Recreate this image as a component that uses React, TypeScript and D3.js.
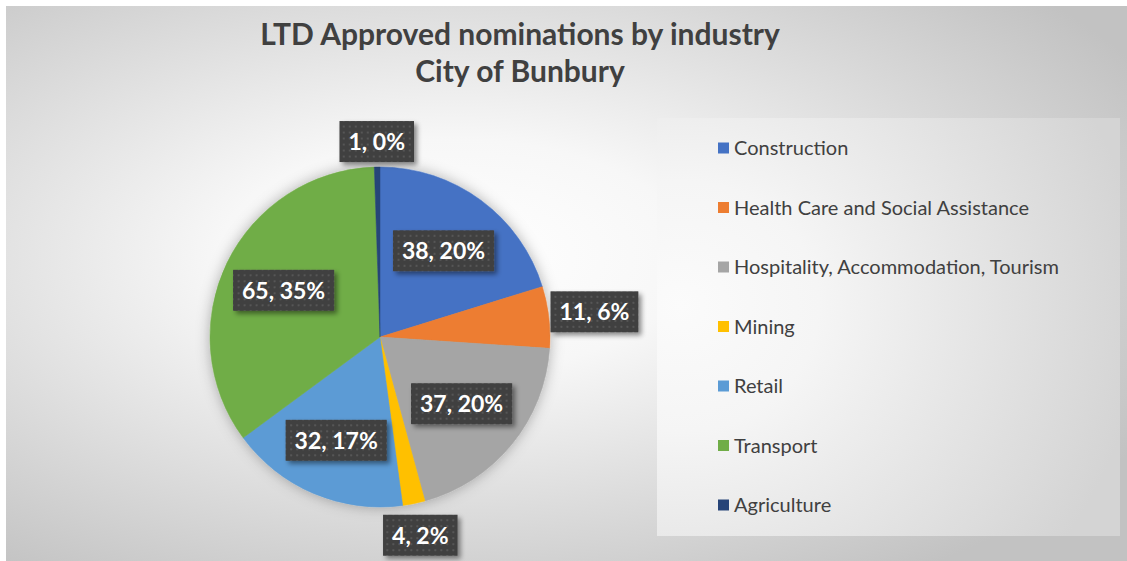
import React, { useEffect, useRef } from 'react';
import * as d3 from 'd3';

const categories = [
  'Construction',
  'Health Care and Social Assistance',
  'Hospitality, Accommodation, Tourism',
  'Mining',
  'Retail',
  'Transport',
  'Agriculture',
];
const values = [38, 11, 37, 4, 32, 65, 1];
// percentages as printed on the chart
const percents = [20, 6, 20, 2, 17, 35, 0];
const colors = ['#4472C4', '#ED7D31', '#A5A5A5', '#FFC000', '#5B9BD5', '#70AD47', '#264478'];
// where each data label sits, as a fraction of the pie radius
const labelRadius = [0.63, 1.27, 0.62, 1.19, 0.66, 0.63, 1.15];
const titleLines = ['LTD Approved nominations by industry', 'City of Bunbury'];

const W = 1127;
const H = 561;
const FONT = 'Lato, "Open Sans", sans-serif';

const App: React.FC = () => {
  const svgRef = useRef<SVGSVGElement>(null);

  useEffect(() => {
    if (!svgRef.current) return;
    const svg = d3.select(svgRef.current);
    svg.selectAll('*').remove();

    const defs = svg.append('defs');
    const bg = defs.append('radialGradient').attr('id', 'bgGrad')
      .attr('cx', 0.4).attr('cy', 0.45).attr('r', 0.7);
    bg.append('stop').attr('offset', 0).attr('stop-color', '#ffffff');
    bg.append('stop').attr('offset', 0.3).attr('stop-color', '#f7f7f7');
    bg.append('stop').attr('offset', 1).attr('stop-color', '#c2c2c2');

    const lg = defs.append('radialGradient').attr('id', 'legGrad')
      .attr('cx', 0.05).attr('cy', 0.45).attr('r', 1.0);
    lg.append('stop').attr('offset', 0).attr('stop-color', '#fbfbfb');
    lg.append('stop').attr('offset', 0.3).attr('stop-color', '#f5f5f5');
    lg.append('stop').attr('offset', 1).attr('stop-color', '#d4d4d4');

    const pat = defs.append('pattern').attr('id', 'dots')
      .attr('width', 6).attr('height', 6).attr('patternUnits', 'userSpaceOnUse');
    pat.append('rect').attr('width', 6).attr('height', 6).attr('fill', '#3f3f3f');
    pat.append('rect').attr('x', 2).attr('y', 2).attr('width', 2).attr('height', 2).attr('fill', '#575757');

    const pieShadow = defs.append('filter').attr('id', 'pieShadow')
      .attr('x', '-20%').attr('y', '-20%').attr('width', '140%').attr('height', '140%');
    pieShadow.append('feDropShadow').attr('dx', 0).attr('dy', 0)
      .attr('stdDeviation', 7).attr('flood-color', '#000').attr('flood-opacity', 0.3);

    const boxShadow = defs.append('filter').attr('id', 'boxShadow')
      .attr('x', '-20%').attr('y', '-30%').attr('width', '150%').attr('height', '170%');
    boxShadow.append('feDropShadow').attr('dx', 3).attr('dy', 3)
      .attr('stdDeviation', 2.5).attr('flood-color', '#000').attr('flood-opacity', 0.45);

    // chart area
    svg.append('rect').attr('x', 6).attr('y', 6).attr('width', W - 6).attr('height', H - 6)
      .attr('fill', 'url(#bgGrad)');

    // title
    svg.append('g').selectAll('text').data(titleLines).join('text')
      .attr('x', 520).attr('y', (_, i) => 45 + i * 37)
      .attr('text-anchor', 'middle')
      .attr('font-family', FONT).attr('font-weight', 'bold').attr('font-size', 30)
      .attr('fill', '#404040')
      .text(d => d);

    // pie
    const cx = 380, cy = 337, r = 170;
    const pie = d3.pie<number>().sort(null).value(d => d);
    const arcs = pie(values);
    const arc = d3.arc<d3.PieArcDatum<number>>().innerRadius(0).outerRadius(r);

    const pg = svg.append('g').attr('transform', `translate(${cx},${cy})`);
    pg.append('g').attr('filter', 'url(#pieShadow)')
      .selectAll('path').data(arcs).join('path')
      .attr('d', arc)
      .attr('fill', (_, i) => colors[i])
      .attr('stroke', (_, i) => colors[i]).attr('stroke-width', 0.5);

    // data labels
    arcs.forEach((a, i) => {
      const mid = (a.startAngle + a.endAngle) / 2;
      const lr = labelRadius[i] * r;
      const lx = Math.sin(mid) * lr;
      const ly = -Math.cos(mid) * lr;
      const g = pg.append('g').attr('transform', `translate(${lx},${ly})`);
      const rect = g.append('rect').attr('fill', 'url(#dots)').attr('filter', 'url(#boxShadow)');
      const t = g.append('text')
        .attr('text-anchor', 'middle').attr('dy', '0.36em')
        .attr('font-family', FONT).attr('font-weight', 'bold').attr('font-size', 23)
        .attr('fill', '#ffffff')
        .text(`${values[i]}, ${percents[i]}%`);
      const tw = (t.node() as SVGTextElement).getComputedTextLength();
      const bw = tw + 18, bh = 41;
      rect.attr('x', -bw / 2).attr('y', -bh / 2).attr('width', bw).attr('height', bh);
    });

    // legend
    const lx0 = 657, ly0 = 118, lw = 463, lh = 418;
    svg.append('rect').attr('x', lx0).attr('y', ly0).attr('width', lw).attr('height', lh)
      .attr('fill', 'url(#legGrad)');
    const rowY = d3.scalePoint<string>().domain(categories).range([148, 505]);
    const items = svg.append('g').selectAll('g').data(categories).join('g')
      .attr('transform', d => `translate(718,${rowY(d)})`);
    items.append('rect').attr('x', 0).attr('y', -5.5).attr('width', 11).attr('height', 11)
      .attr('fill', (_, i) => colors[i]);
    items.append('text').attr('x', 16).attr('y', 7)
      .attr('font-family', FONT).attr('font-size', 20).attr('fill', '#404040')
      .text(d => d);
  }, []);

  return (
    <svg ref={svgRef} width={W} height={H}
      style={{ position: 'fixed', left: 0, top: 0, display: 'block', background: '#ffffff' }} />
  );
};

export default App;
